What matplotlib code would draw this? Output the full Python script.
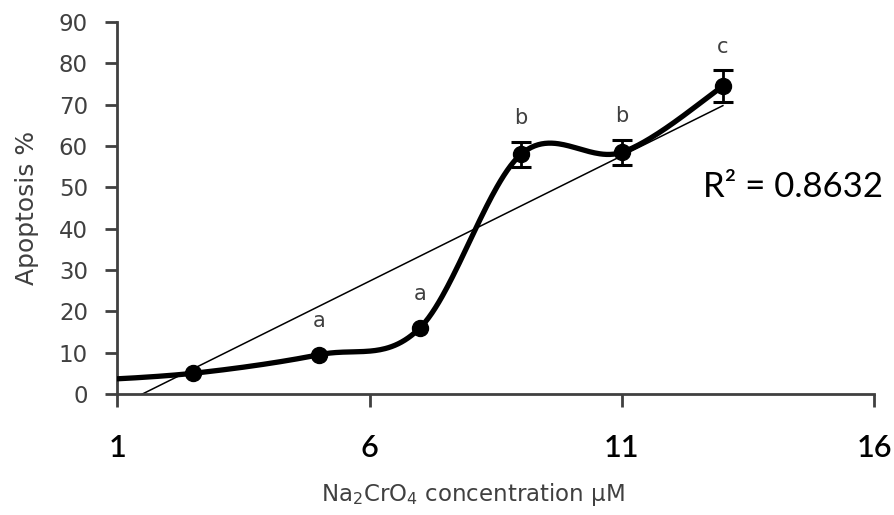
import matplotlib
matplotlib.use("Agg")
import matplotlib.pyplot as plt
import numpy as np

# data (the x=0 control sits left of the visible axis)
conc = [0, 2.5, 5, 7, 9, 11, 13]
apoptosis = [3.0, 5.0, 9.5, 16.0, 58.0, 58.5, 74.5]
sem = [0, 0, 0, 0, 3.0, 3.0, 3.8]
letters = ["", "", "a", "a", "b", "b", "c"]
r2_text = "R² = 0.8632"

x_ticks = [1, 6, 11, 16]
y_ticks = [0, 10, 20, 30, 40, 50, 60, 70, 80, 90]

GREY = "#404040"


def smooth_curve(xs, ys, n=60):
    # Catmull-Rom style bezier, close to Excel's "smoothed line"
    pts = np.column_stack([xs, ys]).astype(float)
    out = []
    t = np.linspace(0, 1, n)[:, None]
    for i in range(len(pts) - 1):
        p0 = pts[max(i - 1, 0)]
        p1 = pts[i]
        p2 = pts[i + 1]
        p3 = pts[min(i + 2, len(pts) - 1)]
        c1 = p1 + (p2 - p0) / 6
        c2 = p2 - (p3 - p1) / 6
        seg = (1 - t) ** 3 * p1 + 3 * (1 - t) ** 2 * t * c1 \
            + 3 * (1 - t) * t ** 2 * c2 + t ** 3 * p2
        out.append(seg if i == 0 else seg[1:])
    return np.vstack(out)


fig = plt.figure(figsize=(8.94, 5.15), dpi=100)
ax = fig.add_axes([0.131, 0.235, 0.847, 0.722])

x = np.array(conc)
y = np.array(apoptosis)
err = np.array(sem)

# linear trendline over the data range
slope, intercept = np.polyfit(x, y, 1)
xl = np.array([x.min(), x.max()])
ax.plot(xl, slope * xl + intercept, color="black", lw=1.1, zorder=2)

curve = smooth_curve(x, y)
ax.plot(curve[:, 0], curve[:, 1], color="black", lw=3.8, zorder=3,
        solid_capstyle="round")
ax.plot(x, y, "o", color="black", markersize=11.5, zorder=4)

m = err > 0
ax.errorbar(x[m], y[m], yerr=err[m], fmt="none", ecolor="black",
            elinewidth=2, capsize=7, capthick=2.2, zorder=4)

for xi, yi, ei, lab in zip(x, y, err, letters):
    if lab:
        ax.annotate(lab, (xi, yi + max(ei, 2.5)), xytext=(0, 10),
                    textcoords="offset points", ha="center", va="bottom",
                    fontsize=15, color=GREY, family="DejaVu Sans")

ax.text(1.012, 0.556, r2_text, transform=ax.transAxes,
        ha="right", va="center", fontsize=25, color="black", family="Lato")

ax.set_xlim(1, 16)
ax.set_ylim(0, 90)
ax.set_xticks(x_ticks)
ax.set_yticks(y_ticks)
ax.set_xticklabels([str(v) for v in x_ticks], fontsize=22, family="Lato",
                   fontweight="semibold", color="black")
ax.set_yticklabels([str(v) for v in y_ticks], fontsize=16.5,
                   family="DejaVu Sans", color=GREY)

for side in ["top", "right"]:
    ax.spines[side].set_visible(False)
for side in ["left", "bottom"]:
    ax.spines[side].set_color(GREY)
    ax.spines[side].set_linewidth(2)
ax.tick_params(axis="both", direction="out", length=9, width=2, color=GREY)
ax.tick_params(axis="x", pad=20)
ax.tick_params(axis="y", pad=12)

ax.set_ylabel("Apoptosis %", fontsize=18, color=GREY, family="DejaVu Sans",
              labelpad=14)
ax.set_xlabel("Na$_2$CrO$_4$ concentration µM", fontsize=16.5, color=GREY,
              family="DejaVu Sans")
ax.xaxis.set_label_coords(0.47, -0.235)

fig.savefig("out.png", dpi=100)
